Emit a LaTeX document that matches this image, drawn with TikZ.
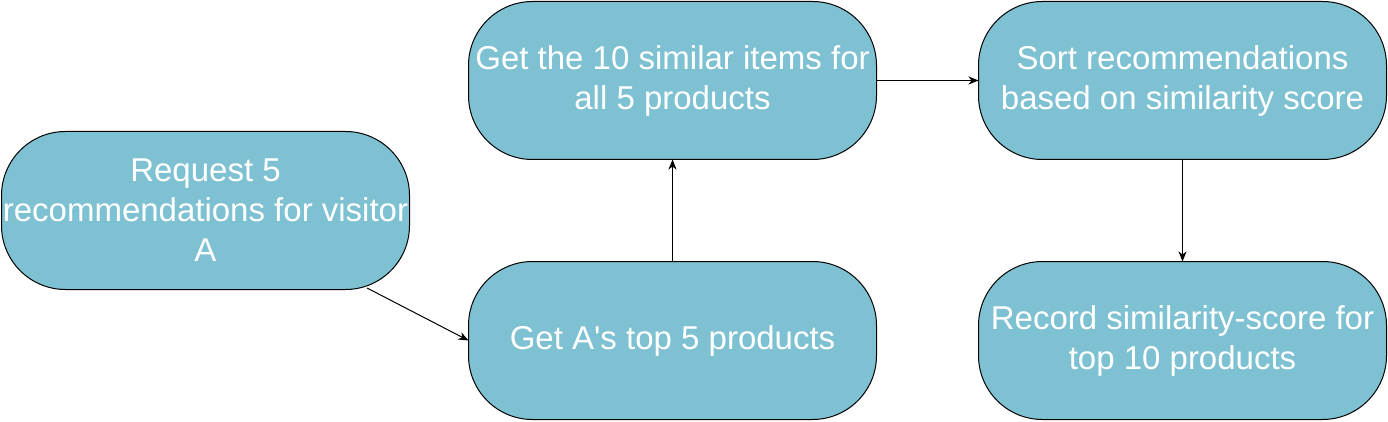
\documentclass[tikz,border=0pt]{standalone}
\usepackage{fontspec}
\setmainfont{Liberation Sans}[Ligatures=TeXOff]
\usetikzlibrary{arrows.meta,calc}
\definecolor{boxfill}{HTML}{7EC1D2}
\begin{document}
\begin{tikzpicture}[x=1pt,y=-1pt,
  flowbox/.style={draw=black, line width=1pt, fill=boxfill, rounded corners=64pt,
    minimum width=408pt, minimum height=158pt, inner sep=0pt, outer sep=0pt,
    align=center, text=white, font=\fontsize{33pt}{40pt}\selectfont},
  conn/.style={draw=black, line width=1pt, -{Stealth[length=10pt,width=8pt,inset=3pt]}}]
\useasboundingbox (0,0) rectangle (1388,422);
\node[flowbox] (n1) at (205.5,210.5) {Request 5\\recommendations for visitor\\A};
\node[flowbox] (n2) at (672.5,340.5) {Get A's top 5 products};
\node[flowbox] (n3) at (672.5,80.5) {Get the 10 similar items for\\all 5 products};
\node[flowbox] (n4) at (1182.5,80.5) {Sort recommendations\\based on similarity score};
\node[flowbox] (n5) at (1182.5,340.5) {Record similarity-score for\\top 10 products};
\coordinate (s1) at ($(n1.south)+(161.5,-1.5)$);
\draw[conn] (s1) -- (n2.west);
\draw[conn] (n2.north) -- (n3.south);
\draw[conn] (n3.east) -- (n4.west);
\draw[conn] (n4.south) -- (n5.north);
\end{tikzpicture}
\end{document}
